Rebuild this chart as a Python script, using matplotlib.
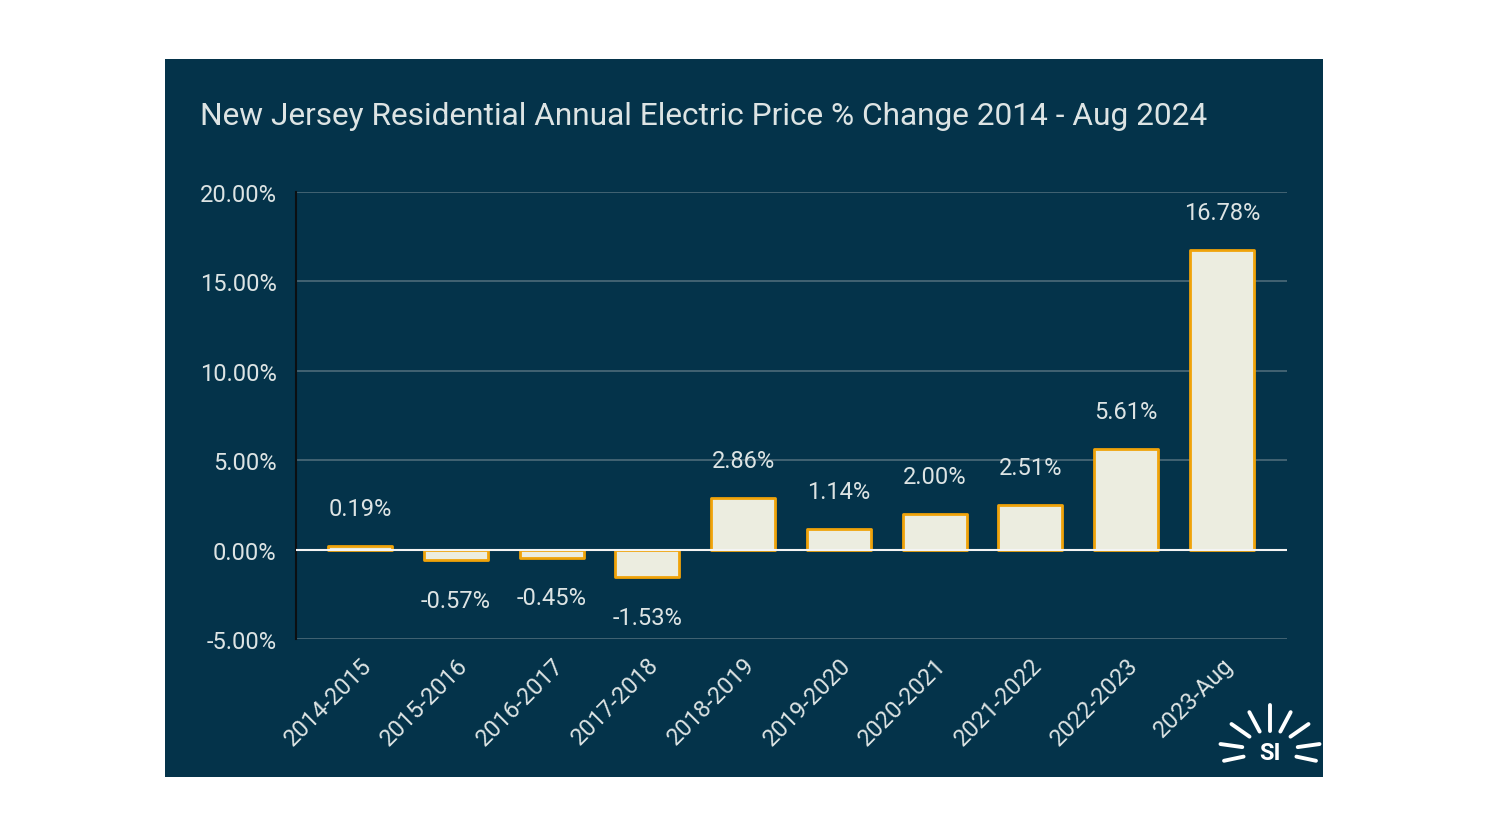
import numpy as np
import matplotlib
matplotlib.use("Agg")
from matplotlib import pyplot as plt
from matplotlib.patches import Rectangle
from matplotlib.lines import Line2D
from matplotlib.ticker import FuncFormatter

periods = ["2014-2015", "2015-2016", "2016-2017", "2017-2018", "2018-2019",
           "2019-2020", "2020-2021", "2021-2022", "2022-2023", "2023-Aug"]
pct_change = [0.19, -0.57, -0.45, -1.53, 2.86, 1.14, 2.00, 2.51, 5.61, 16.78]
y_ticks = [-5, 0, 5, 10, 15, 20]

W, H = 1488, 837
bg = "#04334a"
txt = "#dde4e4"
plt.rcParams['font.family'] = ['Roboto', 'DejaVu Sans']

fig = plt.figure(figsize=(W / 100, H / 100), dpi=100, facecolor="white")

# dark card behind the chart
fig.add_artist(Rectangle((165 / W, 1 - 778 / H), (1323 - 165) / W, (778 - 60) / H,
                         transform=fig.transFigure, facecolor=bg, edgecolor="none", zorder=0))

fig.text(200 / W, 1 - 125 / H, "New Jersey Residential Annual Electric Price % Change 2014 - Aug 2024",
         color=txt, fontsize=22.8, va="baseline", ha="left")

ax = fig.add_axes([296 / W, 1 - 640 / H, (1287 - 296) / W, (640 - 193) / H])
ax.set_facecolor(bg)
ax.patch.set_alpha(0)

x = np.arange(len(periods))
bars = ax.bar(x, pct_change, width=0.67, color="#ecede0", edgecolor="#f0a30a",
              linewidth=2, zorder=3)
for b in bars:
    b.set_joinstyle("round")

for xi, v in zip(x, pct_change):
    off = 27 if v >= 0 else -29
    ax.annotate(f"{v:.2f}%", (xi, v), xytext=(0, off), textcoords="offset points",
                ha="center", va="center", color=txt, fontsize=17)

ax.set_ylim(-5, 20)
ax.set_xlim(-0.67, len(periods) - 1 + 0.68)
ax.set_yticks(y_ticks)
ax.yaxis.set_major_formatter(FuncFormatter(lambda v, p: f"{v:.2f}%"))
ax.grid(axis="y", color="#4d6b7a", linewidth=1.2, zorder=0)
ax.axhline(0, color="#f4f4f4", linewidth=1.5, zorder=4)

ax.set_xticks(x)
ax.set_xticklabels(periods, rotation=45, ha="right", rotation_mode="anchor")
ax.tick_params(axis="both", length=0, colors=txt, labelsize=17)
ax.tick_params(axis="y", pad=14)
ax.tick_params(axis="x", pad=10)

for s in ["top", "right", "bottom"]:
    ax.spines[s].set_visible(False)
ax.spines["left"].set_color("#0b0f12")
ax.spines["left"].set_linewidth(1.5)

# small "SI" sun logo, bottom right
cx, cy = 1270, 752
for ang, r1, r2 in [(90, 20, 46), (62, 22, 44), (118, 22, 44), (35, 25, 47), (145, 25, 47),
                    (8, 28, 50), (172, 28, 50), (-12, 27, 47), (192, 27, 47)]:
    a = np.radians(ang)
    xs = [(cx + r1 * np.cos(a)) / W, (cx + r2 * np.cos(a)) / W]
    ys = [1 - (cy - r1 * np.sin(a)) / H, 1 - (cy - r2 * np.sin(a)) / H]
    fig.add_artist(Line2D(xs, ys, transform=fig.transFigure, color="white",
                          linewidth=2.8, solid_capstyle="round"))
fig.text(cx / W, 1 - (cy + 1) / H, "SI", color="white", fontsize=17, fontweight="bold",
         ha="center", va="center")

fig.savefig("out.png", dpi=100, facecolor="white")
